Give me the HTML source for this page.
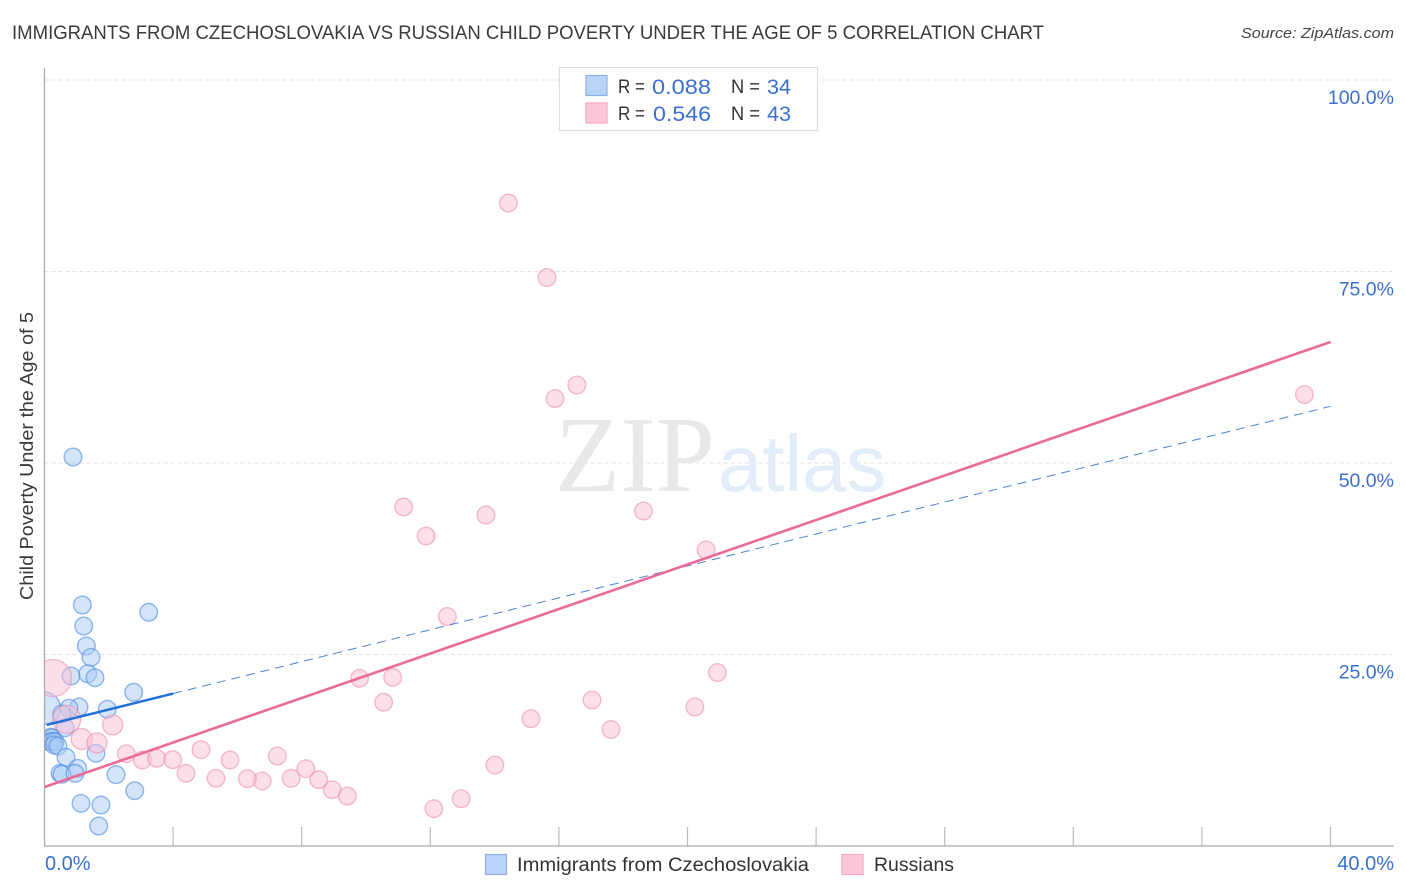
<!DOCTYPE html>
<html>
<head>
<meta charset="utf-8">
<title>Immigrants from Czechoslovakia vs Russian Child Poverty Chart</title>
<style>
html,body{margin:0;padding:0;background:#fff;}
svg{display:block;font-family:"Liberation Sans",sans-serif;}
</style>
</head>
<body>
<svg id="chart" xmlns="http://www.w3.org/2000/svg" width="1406" height="892" viewBox="0 0 1406 892">
  <defs><clipPath id="plot-clip"><rect x="44.5" y="60" width="1350" height="786"/></clipPath></defs>
  <rect width="1406" height="892" fill="#fff"/>
  <text x="12" y="39" font-size="19" fill="#3a3a3a" textLength="1032" lengthAdjust="spacingAndGlyphs">IMMIGRANTS FROM CZECHOSLOVAKIA VS RUSSIAN CHILD POVERTY UNDER THE AGE OF 5 CORRELATION CHART</text>
  <text x="1241" y="38" font-size="15" font-style="italic" fill="#444" textLength="153" lengthAdjust="spacingAndGlyphs">Source: ZipAtlas.com</text>
  <g id="grid"></g>
  <text x="555" y="491" font-family="'Liberation Serif',serif" font-size="108" fill="#e8e8e8" textLength="160" lengthAdjust="spacingAndGlyphs">ZIP</text>
  <text x="718" y="491" font-size="80" fill="#e3ecf9" textLength="168" lengthAdjust="spacingAndGlyphs">atlas</text>
  <g id="points" clip-path="url(#plot-clip)"></g>
  <g id="lines"></g>
  <line x1="44.5" y1="68" x2="44.5" y2="846" stroke="#aaa" stroke-width="1.3"/>
  <line x1="44" y1="846" x2="1394" y2="846" stroke="#aaa" stroke-width="1.3"/>
  <g id="axes"></g>
  <text transform="translate(33,600) rotate(-90)" font-size="18.5" fill="#3a3a3a" textLength="288" lengthAdjust="spacingAndGlyphs">Child Poverty Under the Age of 5</text>

  <g>
    <rect x="559.5" y="67.5" width="258" height="63" fill="#fff" stroke="#ddd" stroke-width="1.2"/>
    <rect x="586" y="75.5" width="21" height="20" fill="#b9d4f7" stroke="#8ab2e8" stroke-width="1.2"/>
    <rect x="586" y="103" width="21" height="20" fill="#fbc8da" stroke="#f4a8c2" stroke-width="1.2"/>
    <text x="618" y="93" font-size="19" fill="#333" textLength="27" lengthAdjust="spacingAndGlyphs">R =</text>
    <text x="652" y="94" font-size="21" fill="#3a70d0" textLength="59" lengthAdjust="spacingAndGlyphs">0.088</text>
    <text x="731" y="93" font-size="19" fill="#333" textLength="29" lengthAdjust="spacingAndGlyphs">N =</text>
    <text x="767" y="94" font-size="21" fill="#3a70d0" textLength="24" lengthAdjust="spacingAndGlyphs">34</text>
    <text x="618" y="120" font-size="19" fill="#333" textLength="27" lengthAdjust="spacingAndGlyphs">R =</text>
    <text x="653" y="121" font-size="21" fill="#3a70d0" textLength="58" lengthAdjust="spacingAndGlyphs">0.546</text>
    <text x="731" y="120" font-size="19" fill="#333" textLength="29" lengthAdjust="spacingAndGlyphs">N =</text>
    <text x="767" y="121" font-size="21" fill="#3a70d0" textLength="24" lengthAdjust="spacingAndGlyphs">43</text>
  </g>

  <g>
    <rect x="485.5" y="854.5" width="21" height="20" fill="#b9d4f7" stroke="#8ab2e8" stroke-width="1.2"/>
    <text x="517" y="871" font-size="19" fill="#333" textLength="292" lengthAdjust="spacingAndGlyphs">Immigrants from Czechoslovakia</text>
    <rect x="842" y="854.5" width="21" height="20" fill="#fbc8da" stroke="#f4a8c2" stroke-width="1.2"/>
    <text x="874" y="871" font-size="19" fill="#333" textLength="80" lengthAdjust="spacingAndGlyphs">Russians</text>
  </g>
</svg>
<script>
// Tick values and labels
const xTickValues = [4, 8, 12, 16, 20, 24, 28, 32, 36, 40];
const xEndLabels = ["0.0%", "40.0%"];
const yTickValues = [100, 75, 50, 25];
const yTickLabels = ["100.0%", "75.0%", "50.0%", "25.0%"];

// Immigrants from Czechoslovakia (x %, y %, bubble weight)
const blueX = [0.886, 1.176, 3.241, 1.219, 1.300, 1.446, 0.824, 1.344, 1.571, 2.774, 0.0, 1.073, 0.762, 0.535, 1.953, 0.638, 0.2, 0.233, 0.171, 0.264, 0.327, 0.295, 0.42, 1.602, 0.669, 1.033, 0.482, 0.544, 0.949, 2.224, 2.806, 1.135, 1.757, 1.686];
const blueY = [50.78, 31.46, 30.51, 28.72, 26.11, 24.63, 22.19, 22.49, 21.97, 20.07, 18.0, 18.15, 17.98, 17.23, 17.85, 15.44, 14.23, 14.1, 13.58, 13.71, 13.58, 13.19, 13.05, 12.1, 11.58, 10.14, 9.49, 9.36, 9.49, 9.31, 7.22, 5.57, 5.35, 2.61];
const blueSize = [8.8, 8.8, 8.8, 8.8, 8.8, 8.8, 8.8, 8.8, 8.8, 8.8, 16, 8.8, 8.8, 8.8, 8.8, 8.8, 8.8, 8.8, 8.8, 8.8, 8.8, 8.8, 8.8, 8.8, 8.8, 8.8, 8.8, 8.8, 8.8, 8.8, 8.8, 8.8, 8.8, 8.8];

// Russians (x %, y %, bubble weight)
const pinkX = [14.43, 15.63, 16.56, 15.88, 39.19, 11.17, 13.73, 18.63, 11.87, 20.58, 12.53, 20.93, 17.03, 9.80, 10.83, 10.55, 15.13, 14.01, 12.96, 12.11, 9.42, 8.95, 8.53, 8.13, 7.67, 7.24, 6.77, 6.31, 17.62, 20.23, 0.264, 0.69, 1.157, 1.633, 2.121, 2.544, 3.042, 3.49, 3.988, 4.868, 4.401, 5.334, 5.770];
const pinkY = [83.94, 74.22, 60.18, 58.42, 58.94, 44.26, 43.21, 43.73, 40.47, 38.64, 29.96, 22.65, 19.06, 21.89, 22.02, 18.76, 16.62, 10.57, 6.17, 4.87, 6.53, 7.35, 8.66, 10.09, 8.84, 11.75, 8.49, 8.79, 15.21, 18.15, 21.93, 16.54, 13.97, 13.45, 15.8, 12.05, 11.23, 11.45, 11.27, 12.57, 9.49, 8.84, 11.23];
const pinkSize = [8.8, 8.8, 8.8, 8.8, 8.8, 8.8, 8.8, 8.8, 8.8, 8.8, 8.8, 8.8, 8.8, 8.8, 8.8, 8.8, 8.8, 8.8, 8.8, 8.8, 8.8, 8.8, 8.8, 8.8, 8.8, 8.8, 8.8, 8.8, 8.8, 8.8, 18.5, 14, 10.5, 10, 10, 8.8, 8.8, 8.8, 8.8, 8.8, 8.8, 8.8, 8.8];

// Trend lines: [x %, y %]
const blueTrendSolid = [[0.07, 15.8], [4.0, 19.9]];
const blueTrendDashed = [[4.0, 19.9], [40.0, 57.4]];
const pinkTrend = [[0.0, 7.7], [40.0, 65.8]];

const NS = "http://www.w3.org/2000/svg";
function sx(v) { return 44.5 + v * 32.15; }
function sy(v) { return 846 - v * 7.66; }
function mk(tag, parent, attrs) {
  const el = document.createElementNS(NS, tag);
  for (const k in attrs) el.setAttribute(k, attrs[k]);
  parent.appendChild(el);
  return el;
}

const grid = document.getElementById("grid");
const axes = document.getElementById("axes");
yTickValues.forEach(function (v, i) {
  const g = mk("line", grid, {x1: 44.5, x2: 1394, y1: sy(v), y2: sy(v), stroke: "#e2e2e2", "stroke-width": 1, "stroke-dasharray": "4 3"});
  
  
  const t = mk("text", axes, {x: 1394, y: sy(v) + 24, "font-size": 19.5, fill: "#3a70d0", "text-anchor": "end"});
  
  
  t.textContent = yTickLabels[i];
});
xTickValues.forEach(function (v) {
  const l = mk("line", axes, {x1: sx(v), x2: sx(v), y1: 827, y2: 846, stroke: "#bbb", "stroke-width": 1.2});
  
  
});
const xl0 = mk("text", axes, {x: 45, y: 870, "font-size": 20, fill: "#3a70d0"});


xl0.textContent = xEndLabels[0];
const xl1 = mk("text", axes, {x: 1394, y: 870, "font-size": 20, fill: "#3a70d0", "text-anchor": "end"});


xl1.textContent = xEndLabels[1];

const points = document.getElementById("points");
blueX.forEach(function (v, i) {
  const c = mk("circle", points, {cx: sx(v), cy: sy(blueY[i]), r: blueSize[i], fill: "#a9cbf5", "fill-opacity": 0.5, stroke: "#4a8ade", "stroke-opacity": 0.6, "stroke-width": 1.4});
  
  
});
pinkX.forEach(function (v, i) {
  const c = mk("circle", points, {cx: sx(v), cy: sy(pinkY[i]), r: pinkSize[i], fill: "#f9c0d4", "fill-opacity": 0.5, stroke: "#ec8fb0", "stroke-opacity": 0.6, "stroke-width": 1.4});
  
  
});

const lines = document.getElementById("lines");
function trend(seg, stroke, width, dash) {
  const a = {x1: sx(seg[0][0]), y1: sy(seg[0][1]), x2: sx(seg[1][0]), y2: sy(seg[1][1]), stroke: stroke, "stroke-width": width};
  if (dash) a["stroke-dasharray"] = dash;
  return mk("line", lines, a);
}
const tbd = trend(blueTrendDashed, "#4a80d8", 1, "9 6");


const tbs = trend(blueTrendSolid, "#1f6fd6", 2.4);


const tp = trend(pinkTrend, "#ea6a99", 2.6);


</script>
</body>
</html>
